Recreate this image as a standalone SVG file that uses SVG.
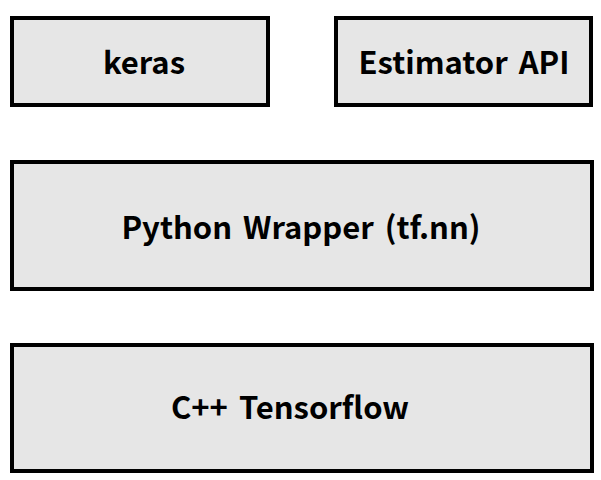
<svg xmlns="http://www.w3.org/2000/svg" width="601" height="480" viewBox="0 0 601 480">
<style>
.box{fill:#e6e6e6;stroke:#000;stroke-width:4}
.lbl{font-family:"Noto Sans CJK KR","Noto Sans",sans-serif;font-weight:bold;font-size:31px;word-spacing:4px;fill:#000;text-anchor:middle}
</style>
<rect width="601" height="480" fill="#fff"/>
<g id="keras"><rect class="box" x="12" y="18" width="256" height="87"/><text class="lbl" x="144" y="74">keras</text></g>
<g id="estimator"><rect class="box" x="336" y="18" width="255" height="87"/><text class="lbl" x="464" y="74">Estimator API</text></g>
<g id="python"><rect class="box" x="12" y="162" width="580" height="127"/><text class="lbl" x="301" y="239">Python Wrapper (tf.nn)</text></g>
<g id="cpp"><rect class="box" x="12" y="345" width="580" height="126"/><text class="lbl" x="290" y="419">C++ Tensorflow</text></g>
<g id="connectors"></g>
</svg>
